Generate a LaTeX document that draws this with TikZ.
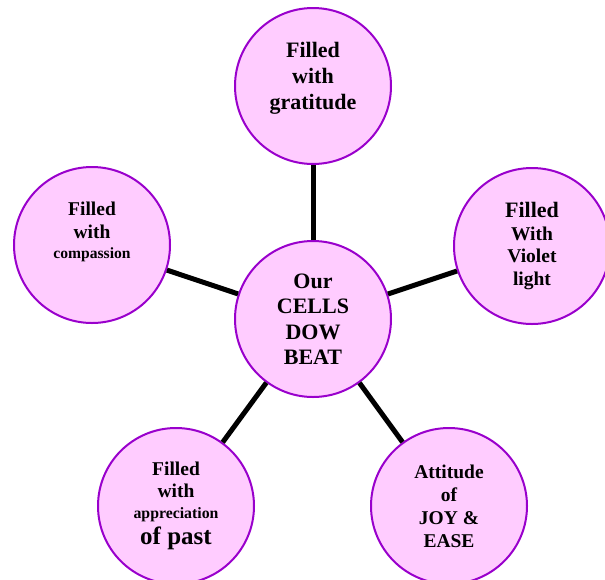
\documentclass[tikz,border=0pt]{standalone}
\usepackage{fontspec}
\setmainfont{Liberation Serif}
\definecolor{bubblepink}{HTML}{FFCCFF}
\definecolor{bubbleedge}{HTML}{9900CC}
\tikzset{
  bubble/.style={circle, draw=bubbleedge, line width=2pt, fill=bubblepink, minimum size=156pt, inner sep=0pt},
  words/.style={align=center, inner sep=0pt, font=\bfseries\fontsize{19.5}{22.5}\selectfont},
  bigwords/.style={words, font=\bfseries\fontsize{22}{26}\selectfont},
  spoke/.style={line width=5pt, black}
}
\begin{document}
\begin{tikzpicture}[x=1pt, y=-1pt]
    \useasboundingbox (0,0) rectangle (605,579);
    % Draw the middle bubble and the five around it.
    \node[bubble, label={[bigwords, font=\bfseries\fontsize{22}{25.5}\selectfont]center:{Our\\CELLS\\DOW\\BEAT}}] (cells) at (313,319) {};
    \node[bubble, label={[bigwords, yshift=8pt]center:{Filled\\with\\gratitude}}] (gratitude) at (313,86) {};
    \node[bubble, label={[words]center:{{\fontsize{22}{22}\selectfont Filled}\\With\\Violet\\light}}] (violet) at (532,246) {};
    \node[bubble, label={[words, yshift=13pt]center:{Filled\\with\\[-2pt]{\fontsize{15.6}{18}\selectfont compassion}}}] (compassion) at (92,245) {};
    \node[bubble, label={[words]center:{Filled\\with\\[-2pt]{\fontsize{15.8}{18}\selectfont appreciation}\\[4pt]{\fontsize{25}{28}\selectfont of past}}}] (past) at (176,506) {};
    \node[bubble, label={[words, font=\bfseries\fontsize{19.5}{23}\selectfont]center:{Attitude\\of\\JOY \&\\EASE}}] (joy) at (449,506) {};
    % Draw the spokes from the middle out.
    \foreach \outer in {gratitude, violet, compassion, past, joy}
      \draw[spoke] (cells) -- (\outer);
\end{tikzpicture}
\end{document}
